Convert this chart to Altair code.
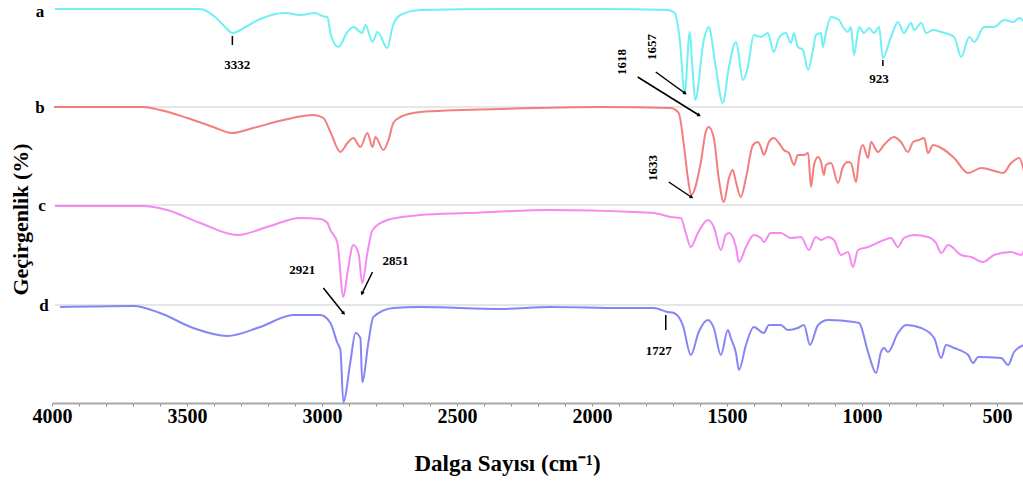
import altair as alt
import pandas as pd

# FTIR transmittance spectra of four samples, stacked with a vertical offset
SAMPLES = ["a", "b", "c", "d"]
COLORS = ["#5EEEF3", "#F27070", "#F47CF0", "#7878F2"]
OFFSETS = [294, 196, 98, -2]

A_WN = [3989, 3663, 3451, 3396, 3359, 3332, 3284, 3229, 3136, 3080, 3025, 2999, 2980, 2969, 2940,
        2906, 2884, 2851, 2839, 2813, 2795, 2758, 2739, 2710, 2636, 2339, 1968, 1720, 1694, 1675,
        1657, 1638, 1630, 1618, 1586, 1568, 1542, 1516, 1493, 1467, 1441, 1423, 1401, 1375, 1349,
        1327, 1308, 1282, 1264, 1252, 1238, 1219, 1200, 1182, 1171, 1152, 1145, 1134, 1115, 1085,
        1071, 1052, 1041, 1030, 1011, 993, 974, 956, 937, 923, 893, 867, 845, 819, 807,
        781, 763, 737, 707, 659, 633, 603, 585, 548, 511, 474, 440, 418, 400]
A_T = [100, 100, 100, 92, 82, 76, 82, 90, 96, 94, 96, 93, 92, 76, 62,
       77, 82, 76, 84, 67, 77, 61, 82, 94, 99, 100, 100, 99, 96, 69,
       16, 77, 49, 9, 69, 82, 42, 6, 42, 67, 29, 42, 74, 72, 76,
       57, 71, 76, 66, 76, 62, 59, 39, 59, 74, 76, 62, 76, 92, 89,
       82, 77, 82, 54, 82, 76, 81, 76, 82, 51, 72, 87, 76, 86, 79,
       86, 76, 79, 77, 72, 52, 72, 67, 82, 82, 89, 87, 91, 87]

B_WN = [3993, 3663, 3600, 3499, 3403, 3333, 3255, 3143, 3032, 2995, 2969, 2932, 2906, 2884, 2858,
        2832, 2813, 2802, 2773, 2754, 2736, 2710, 2636, 2339, 1968, 1708, 1679, 1660, 1645, 1633,
        1597, 1579, 1568, 1549, 1531, 1512, 1493, 1479, 1467, 1449, 1430, 1404, 1386, 1375, 1364,
        1345, 1327, 1308, 1290, 1271, 1252, 1238, 1215, 1200, 1189, 1178, 1163, 1152, 1141, 1134,
        1115, 1089, 1071, 1052, 1041, 1022, 1011, 997, 978, 967, 941, 919, 882, 856, 830,
        811, 789, 770, 756, 737, 707, 659, 607, 559, 496, 477, 448, 418, 400]
B_T = [100, 100, 97, 89, 80, 74, 79, 87, 92, 89, 75, 55, 64, 69, 60,
       74, 60, 70, 57, 67, 84, 90, 95, 98, 100, 99, 94, 62, 29, 12,
       45, 75, 80, 69, 29, 5, 29, 37, 25, 10, 29, 62, 65, 60, 52,
       65, 69, 64, 57, 54, 42, 52, 52, 54, 20, 42, 50, 45, 32, 42,
       44, 24, 40, 45, 44, 25, 50, 62, 49, 65, 55, 62, 70, 65, 55,
       65, 67, 69, 54, 62, 59, 49, 34, 39, 35, 34, 44, 49, 35]

C_WN = [3989, 3663, 3574, 3451, 3314, 3203, 3080, 3006, 2980, 2969, 2943, 2921, 2906, 2884, 2865,
        2851, 2832, 2813, 2758, 2636, 2461, 2153, 1846, 1771, 1708, 1671, 1653, 1634, 1608, 1571,
        1549, 1523, 1505, 1493, 1467, 1456, 1430, 1401, 1375, 1364, 1338, 1301, 1264, 1226, 1197,
        1171, 1152, 1126, 1104, 1078, 1052, 1034, 1015, 978, 919, 893, 867, 845, 807, 756,
        726, 707, 681, 633, 596, 552, 511, 448, 411, 400]
C_T = [99, 99, 95, 82, 70, 78, 87, 86, 82, 75, 62, 8, 32, 60, 52,
       22, 52, 75, 85, 90, 92, 95, 93, 92, 88, 87, 72, 58, 72, 85,
       78, 55, 70, 72, 58, 43, 58, 70, 67, 63, 72, 72, 67, 68, 55,
       68, 65, 68, 65, 50, 53, 38, 55, 58, 65, 67, 58, 67, 70, 68,
       62, 52, 60, 50, 48, 43, 50, 53, 50, 55]

D_WN = [3970, 3700, 3600, 3477, 3351, 3229, 3106, 3006, 2969, 2943, 2932, 2921, 2895, 2876, 2858,
        2851, 2828, 2810, 2736, 2636, 2339, 2153, 1894, 1771, 1720, 1697, 1664, 1634, 1605, 1571,
        1549, 1523, 1497, 1486, 1467, 1456, 1430, 1401, 1364, 1345, 1301, 1275, 1238, 1215, 1193,
        1163, 1126, 1030, 1011, 978, 948, 930, 919, 904, 867, 837, 781, 733, 707, 689,
        659, 607, 589, 570, 485, 459, 437, 400]
D_T = [98, 99, 92, 77, 69, 78, 90, 90, 82, 62, 55, 3, 43, 72, 67,
       23, 63, 88, 97, 98, 96, 98, 97, 97, 93, 92, 80, 50, 73, 85,
       77, 50, 75, 67, 52, 35, 60, 78, 72, 80, 80, 75, 77, 80, 60,
       80, 85, 83, 82, 53, 32, 53, 57, 53, 72, 80, 77, 67, 47, 60,
       57, 50, 42, 48, 47, 40, 53, 60]

# Peak annotations: label, text anchor (wavenumber, level, angle), leader line (wn1, lvl1, wn2, lvl2)
ANN_LABELS = ["3332", "923", "1657", "1618", "1633", "2921", "2851", "1727"]
ANN_TEXT_POS = [(3314, 338, 0), (937, 324, 0), (1779, 356, 270), (1890, 341, 270),
                (1775, 235, 270), (3073, 133, 0), (2728, 142, 0), (1753, 52, 0)]
ANN_LINES = [(3332, 367, 3332, 358), (923, 343, 923, 337), (1764, 331, 1657, 310),
             (1831, 326, 1605, 288), (1716, 221, 1633, 206), (2995, 115, 2921, 90),
             (2813, 131, 2851, 110), (1727, 88, 1727, 73)]
# arrow tips of the slanted leaders (wn, level, heading in degrees)
ARROW_TIPS = [(1657, 310, 125), (1605, 288, 122), (1633, 206, 123), (2921, 90, 139), (2851, 110, 203)]

SERIF = "Liberation Serif"

frames = []
for s, wn, t, off in zip(SAMPLES, [A_WN, B_WN, C_WN, D_WN], [A_T, B_T, C_T, D_T], OFFSETS):
    frames.append(pd.DataFrame({"wn": wn, "T": t, "sample": s,
                                "level": [v + off for v in t], "order": range(len(wn))}))
spectra = pd.DataFrame(pd.concat(frames, ignore_index=True))

x_scale = alt.Scale(domain=[404, 4000], reverse=True, nice=False, zero=False)
y_scale = alt.Scale(domain=[0, 400], nice=False, zero=False)

# one shared axis definition per channel so every layer merges into the same guide
X_AXIS = alt.Axis(values=list(range(500, 4001, 100)), format="d",
                  labelExpr="datum.value % 500 === 0 ? datum.label : ''",
                  title="Dalga Sayısı (cm⁻¹)", grid=False,
                  domainColor="#A8A8A8", domainWidth=2,
                  tickColor="#888888", tickSize=3, tickWidth=1,
                  labelFont=SERIF, labelFontSize=20, labelFontWeight="bold",
                  labelColor="black", labelPadding=0, labelFlush=False,
                  titleFont=SERIF, titleFontSize=23, titleFontWeight="bold",
                  titleColor="black", titleX=455, titleY=60,
                  titleAlign="center", titleBaseline="middle")
Y_AXIS = alt.Axis(title="Geçirgenlik (%)", labels=False, ticks=False, domain=False,
                  grid=False, titleX=-32, titleY=216, titleAngle=270,
                  titleAlign="center", titleBaseline="middle",
                  titleFont=SERIF, titleFontSize=22, titleFontWeight="bold",
                  titleColor="black")


def xq(field):
    return alt.X(field, type="quantitative", scale=x_scale, axis=X_AXIS)


def yq(field):
    return alt.Y(field, type="quantitative", scale=y_scale, axis=Y_AXIS)


lines = alt.Chart(spectra).mark_line(strokeWidth=2, opacity=0.9, interpolate="monotone").encode(
    x=xq("wn"),
    y=yq("level"),
    color=alt.Color("sample:N", scale=alt.Scale(domain=SAMPLES, range=COLORS), legend=None),
    detail="sample:N",
    order="order:Q",
)

# light separators at the start level of each lower spectrum
seps = pd.DataFrame({"wn": [3990] * 3, "wn2": [404] * 3, "level": [100 + o for o in OFFSETS[1:]]})
sep_layer = alt.Chart(seps).mark_rule(color="#E6E6E6", strokeWidth=2).encode(
    x=xq("wn"), x2="wn2:Q", y=yq("level"))

# sample letters sit just left of each spectrum's start
letter_px = [-12, -12, -10, -8]
letter_dy = [3, 1, 1, 1]
letter_layers = [
    alt.Chart(pd.DataFrame({"name": [s], "level": [100 + o]})).mark_text(
        font=SERIF, fontSize=17, fontWeight="bold", color="black", baseline="middle", dy=dy).encode(
        x=alt.value(px), y=yq("level"), text="name:N")
    for s, o, px, dy in zip(SAMPLES, OFFSETS, letter_px, letter_dy)
]

ann_lines = pd.DataFrame({"wn": [l[0] for l in ANN_LINES], "level": [l[1] for l in ANN_LINES],
                          "wn2": [l[2] for l in ANN_LINES], "level2": [l[3] for l in ANN_LINES]})
ann_rule = alt.Chart(ann_lines).mark_rule(color="black", strokeWidth=1.5).encode(
    x=xq("wn"), x2="wn2:Q", y=yq("level"), y2="level2:Q")

tips = pd.DataFrame({"wn": [t[0] for t in ARROW_TIPS], "level": [t[1] for t in ARROW_TIPS],
                     "heading": [t[2] for t in ARROW_TIPS]})
tip_layer = alt.Chart(tips).mark_point(shape="triangle", filled=True, color="black",
                                       size=18, opacity=1).encode(
    x=xq("wn"), y=yq("level"), angle=alt.Angle("heading:Q", scale=None))

ann_text = pd.DataFrame({"label": ANN_LABELS, "wn": [p[0] for p in ANN_TEXT_POS],
                         "level": [p[1] for p in ANN_TEXT_POS], "angle": [p[2] for p in ANN_TEXT_POS]})
text_flat = alt.Chart(ann_text[ann_text["angle"] == 0]).mark_text(
    font=SERIF, fontSize=13, fontWeight="bold", color="black", baseline="middle").encode(
    x=xq("wn"), y=yq("level"), text="label:N")
text_rot = alt.Chart(ann_text[ann_text["angle"] != 0]).mark_text(
    font=SERIF, fontSize=13, fontWeight="bold", color="black", baseline="middle", angle=270).encode(
    x=xq("wn"), y=yq("level"), text="label:N")

chart = alt.layer(sep_layer, lines, *letter_layers, ann_rule, tip_layer, text_flat, text_rot).properties(
    width=971, height=400,
    padding={"left": 52, "top": 3, "right": 0, "bottom": 79},
    autosize="none",
    background="white",
).configure_view(stroke=None)

chart.save("out.html", embed_options={"renderer": "svg", "actions": False})
